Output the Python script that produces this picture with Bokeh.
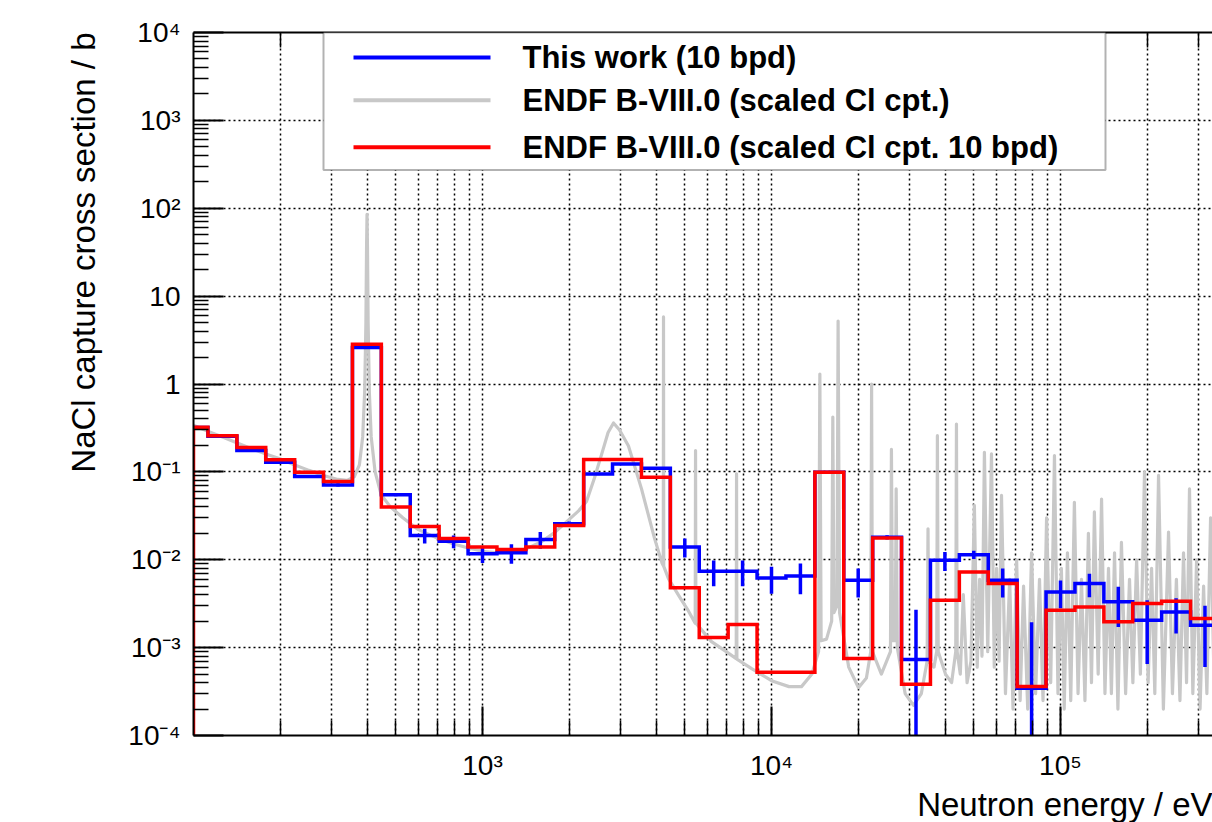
import numpy as np
from bokeh.plotting import figure
from bokeh.models import LogAxis, FixedTicker, Label, BoxAnnotation, Range1d, Title
from bokeh.embed import file_html
from bokeh.resources import INLINE

# ---------------- data ----------------
bin_edges_eV = [100.0, 112.2, 141.3, 177.8, 223.9, 281.8, 354.8, 446.7, 562.3, 707.9,
                891.3, 1122.0, 1413.0, 1778.0, 2239.0, 2818.0, 3548.0, 4467.0, 5623.0, 7079.0,
                8913.0, 11220.0, 14130.0, 17780.0, 22390.0, 28180.0, 35480.0, 44670.0, 56230.0,
                70790.0, 89130.0, 112200.0, 141300.0, 177800.0, 223900.0, 281800.0, 354800.0,
                446700.0]

this_work_b = [0.32, 0.255, 0.175, 0.129, 0.0885, 0.0711, 2.6, 0.0548, 0.0189, 0.0162,
               0.0117, 0.012, 0.017, 0.0257, 0.0948, 0.123, 0.110, 0.014, 0.0074, 0.0074,
               0.0062, 0.00655, 0.099, 0.00583, 0.018, 0.000735, 0.00984, 0.01143, 0.00583,
               0.000344, 0.0043, 0.00535, 0.00332, 0.00205, 0.00255, 0.0018, 0.00075]

this_work_err_b = [0.01, 0.008, 0.006, 0.004, 0.003, 0.003, 0.05, 0.002, 0.0036, 0.0027,
                   0.0025, 0.003, 0.0037, 0.0015, 0.003, 0.003, 0.003, 0.0034, 0.0024, 0.0024,
                   0.0021, 0.0025, 0.002, 0.0021, 0.001, 0.00196, 0.0024, 0.0012, 0.0021,
                   0.0016, 0.0015, 0.0016, 0.0016, 0.0014, 0.0011, 0.0012, 0.0008]

endf_10bpd_b = [0.321, 0.258, 0.19, 0.137, 0.099, 0.0776, 2.84, 0.0398, 0.0239, 0.0174,
                0.014, 0.0131, 0.014, 0.0245, 0.138, 0.138, 0.087, 0.00479, 0.0013, 0.00183,
                0.000525, 0.000525, 0.099, 0.00075, 0.01766, 0.000382, 0.00346, 0.00727,
                0.00535, 0.00036, 0.00267, 0.0029, 0.00197, 0.00318, 0.00337, 0.00215, 0.0018]

endf_point_eV = [
    100, 112, 126, 141, 158, 178, 200, 224, 251, 282, 316, 340, 360, 375, 385, 391, 395, 397,
    398.5, 400, 402, 406, 412, 425, 446, 480, 530, 600, 700, 800, 900, 1000, 1120, 1260, 1410,
    1600, 1780, 2000, 2150, 2290, 2440, 2600, 2720, 2840, 2980, 3200, 3550, 3940, 4180, 4222,
    4230, 4238, 4400, 4800, 5164, 5445, 5460, 5475, 6200, 6870, 7550, 7570, 7590, 8510, 10000,
    11500, 12700, 13800, 14550, 14700, 14850, 15500, 16150, 16300, 16450, 16850, 17000, 17200,
    18500, 20000, 21300, 22050, 22200, 22350, 24000, 25800, 26000, 26250, 26800, 27000, 27250,
    29000, 31000, 33000, 34550, 34800, 35050, 36500, 37300, 37500, 37750, 40000, 42000, 43400,
    43650, 43900, 45000, 46100, 47500, 49000, 50350, 51500, 52500, 53500, 54540, 56000, 57700,
    59000, 60100, 61300, 62500, 64500, 66700, 68500, 70500, 72500, 74500, 77000, 79400, 82000,
    84600, 87000, 89500, 92500, 95300, 98000, 100700, 103000, 105700, 108500, 111700, 115000,
    118200, 121500, 124900, 128000, 131000, 135000, 138700, 142500, 146600, 150000, 153800,
    158000, 162500, 168000, 173300, 178000, 183400, 189000, 195300, 201000, 206600, 212000,
    218400, 227000, 236500, 244000, 251800, 259000, 266500, 273000, 279500, 287000, 295800,
    304000, 312700, 321000, 330600, 340000]

endf_point_b = [
    0.34, 0.29, 0.25, 0.215, 0.185, 0.16, 0.14, 0.12, 0.104, 0.091, 0.082, 0.08, 0.088, 0.12,
    0.25, 0.8, 5.0, 35.0, 85.0, 35.0, 5.0, 0.8, 0.25, 0.1, 0.055, 0.04, 0.03, 0.022, 0.0175,
    0.015, 0.0135, 0.0125, 0.012, 0.0122, 0.0132, 0.016, 0.0205, 0.029, 0.036, 0.046, 0.085,
    0.17, 0.28, 0.36, 0.3, 0.197, 0.064, 0.0174, 0.0092, 0.0086, 5.8, 0.0084, 0.0061, 0.0038,
    0.0026, 0.0019, 0.175, 0.0019, 0.00117, 0.00093, 0.00075, 0.095, 0.00074, 0.00058, 0.00042,
    0.00036, 0.00036, 0.0005, 0.0009, 1.3, 0.0012, 0.00125, 0.002, 0.42, 0.0025, 0.003, 5.2,
    0.0025, 0.0006, 0.00035, 0.00045, 0.0009, 1.0, 0.0009, 0.0005, 0.0009, 0.18, 0.0012, 0.0012,
    0.064, 0.001, 0.0003, 0.00022, 0.0003, 0.0007, 0.0225, 0.0007, 0.0006, 0.0009, 0.258,
    0.0009, 0.0005, 0.0004, 0.0009, 0.35, 0.0009, 0.0005, 0.004, 0.0004, 0.0007, 0.0415,
    0.0006, 0.006, 0.0008, 0.167, 0.0009, 0.16, 0.0006, 0.008, 0.0007, 0.054, 0.0003, 0.006,
    0.0002, 0.01, 0.00025, 0.005, 0.0002, 0.012, 0.0003, 0.006, 0.00025, 0.03, 0.0004, 0.153,
    0.0003, 0.008, 0.0002, 0.012, 0.00025, 0.045, 0.0003, 0.006, 0.00025, 0.02, 0.0004, 0.035,
    0.0005, 0.049, 0.0003, 0.008, 0.0003, 0.012, 0.0002, 0.0158, 0.0003, 0.006, 0.0004, 0.01,
    0.0005, 0.099, 0.0004, 0.008, 0.0003, 0.091, 0.0002, 0.0207, 0.0003, 0.006, 0.00025, 0.012,
    0.0004, 0.064, 0.0003, 0.01, 0.0002, 0.005, 0.0003, 0.03, 0.0004]

legend_labels = ["This work (10 bpd)",
                 "ENDF B-VIII.0 (scaled Cl cpt.)",
                 "ENDF B-VIII.0 (scaled Cl cpt. 10 bpd)"]

x_major_ticks = [1e3, 1e4, 1e5]
x_major_labels = ["10\u00b3", "10\u2074", "10\u2075"]
x_minor_ticks = [200, 300, 400, 500, 600, 700, 800, 900,
                 2000, 3000, 4000, 5000, 6000, 7000, 8000, 9000,
                 20000, 30000, 40000, 50000, 60000, 70000, 80000, 90000,
                 200000, 300000]
y_major_ticks = [1e-4, 1e-3, 1e-2, 1e-1, 1.0, 10.0, 1e2, 1e3, 1e4]
y_major_labels = ["10\u207b\u2074", "10\u207b\u00b3", "10\u207b\u00b2", "10\u207b\u00b9",
                  "1", "10", "10\u00b2", "10\u00b3", "10\u2074"]
y_minor_ticks = [m * d for d in [1e-4, 1e-3, 1e-2, 1e-1, 1.0, 10.0, 1e2, 1e3]
                 for m in (2, 3, 4, 5, 6, 7, 8, 9)]

x_title = "Neutron energy / eV"
y_title = "NaCl capture cross section / b"

# ---------------- layout helpers ----------------
W, H = 1212, 822
FL, FT, FB = 193, 32, 85          # frame borders (left, top, bottom)
X0, X1 = 100.0, 335700.0
Y0, Y1 = 1e-4, 1e4
frame_w = W - FL
frame_h = H - FT - FB
pxdx = frame_w / np.log10(X1 / X0)
pxdy = frame_h / np.log10(Y1 / Y0)


def ex(px):
    return X0 * 10 ** ((px - FL) / pxdx)


def sy(py):
    return Y1 * 10 ** (-(py - FT) / pxdy)


FONT = "Liberation Sans"
BLUE = "#0000ff"
RED = "#ff0000"
GRAY = "#c8c8c8"

p = figure(width=W, height=H, x_axis_type="log", y_axis_type="log",
           x_range=Range1d(X0, X1), y_range=Range1d(Y0, Y1),
           output_backend="svg", toolbar_location=None,
           min_border_left=FL, min_border_right=0, min_border_top=FT,
           min_border_bottom=FB)
p.outline_line_color = None
p.background_fill_color = "white"
p.border_fill_color = "white"

xt = FixedTicker(ticks=x_major_ticks, minor_ticks=x_minor_ticks)
yt = FixedTicker(ticks=y_major_ticks, minor_ticks=y_minor_ticks)


def style_axis(ax, ticker, labels_map, major_len, minor_len, standoff):
    ax.ticker = ticker
    ax.axis_line_color = "black"
    ax.axis_line_width = 2
    ax.major_tick_in = major_len
    ax.major_tick_out = 0
    ax.minor_tick_in = minor_len
    ax.minor_tick_out = 0
    ax.major_tick_line_width = 2
    ax.minor_tick_line_width = 1.5
    ax.major_tick_line_color = "black"
    ax.minor_tick_line_color = "black"
    ax.major_label_text_font = FONT
    ax.major_label_text_font_size = "28px"
    ax.major_label_text_color = "black"
    ax.major_label_standoff = standoff
    ax.major_label_overrides = labels_map


xax = p.xaxis[0]
yax = p.yaxis[0]
style_axis(xax, xt, dict(zip(x_major_ticks, x_major_labels)), 29, 15, 14)
style_axis(yax, yt, dict(zip(y_major_ticks, y_major_labels)), 30, 15, 13)

top = LogAxis()
style_axis(top, FixedTicker(ticks=x_major_ticks, minor_ticks=x_minor_ticks),
           {t: "" for t in x_major_ticks}, 29, 15, 0)
top.major_label_text_font_size = "0px"
p.add_layout(top, "above")

p.xgrid.ticker = FixedTicker(ticks=x_major_ticks, minor_ticks=x_minor_ticks)
p.ygrid.ticker = FixedTicker(ticks=y_major_ticks)
for g in (p.xgrid, p.ygrid):
    g.grid_line_color = "black"
    g.grid_line_alpha = 1.0
    g.grid_line_width = 1.5
    g.grid_line_dash = "2 3"
p.xgrid.minor_grid_line_color = "black"
p.xgrid.minor_grid_line_alpha = 1.0
p.xgrid.minor_grid_line_width = 1.5
p.xgrid.minor_grid_line_dash = "2 3"
p.ygrid.minor_grid_line_color = None

# ---------------- data marks ----------------
edges = np.array(bin_edges_eV)
blue = np.array(this_work_b)
blue_err = np.array(this_work_err_b)
red = np.array(endf_10bpd_b)


def step_path(edges, vals, floor=None):
    xs, ys = [], []
    if floor is not None:
        xs.append(edges[0])
        ys.append(floor)
    for i, v in enumerate(vals):
        xs += [edges[i], edges[i + 1]]
        ys += [v, v]
    return xs, ys


p.line(endf_point_eV, endf_point_b, line_color=GRAY, line_width=3.2, line_join="round")

bx, by = step_path(edges, blue)
p.line(bx, by, line_color=BLUE, line_width=3.5, line_join="miter")
centers = np.sqrt(edges[:-1] * edges[1:])
lo = np.maximum(blue - blue_err, 1e-7)
hi = blue + blue_err
p.segment(x0=centers, y0=lo, x1=centers, y1=hi, line_color=BLUE, line_width=3.5)

rx, ry = step_path(edges, red, floor=1e-7)
p.line(rx, ry, line_color=RED, line_width=3.5, line_join="miter")

# ---------------- legend (drawn manually, ROOT style) ----------------
box = BoxAnnotation(left=ex(323), right=ex(1105), top=sy(FT), bottom=sy(170),
                    fill_color="white", fill_alpha=1.0, line_color="black",
                    line_width=2, level="annotation")
p.add_layout(box)
leg_y = [57, 100, 147]
leg_col = [BLUE, GRAY, RED]
for yy, col, lab in zip(leg_y, leg_col, legend_labels):
    r = p.segment(x0=[ex(353)], y0=[sy(yy)], x1=[ex(490)], y1=[sy(yy)],
                  line_color=col, line_width=4)
    r.level = "overlay"
    p.add_layout(Label(x=ex(522), y=sy(yy), text=lab, text_font=FONT,
                       text_font_size="31px", text_font_style="bold",
                       text_baseline="middle", text_align="left",
                       text_color="black", level="overlay"))

# ---------------- axis titles (ROOT style: aligned to the axis end) ----------------
p.add_layout(Title(text=x_title, align="right", text_font=FONT, text_font_size="33px",
                   text_font_style="normal", text_color="black", standoff=0),
             "below")
p.add_layout(Title(text=y_title, align="right", text_font=FONT, text_font_size="33px",
                   text_font_style="normal", text_color="black", standoff=47),
             "left")

open("out.html", "w").write(file_html(p, INLINE))
